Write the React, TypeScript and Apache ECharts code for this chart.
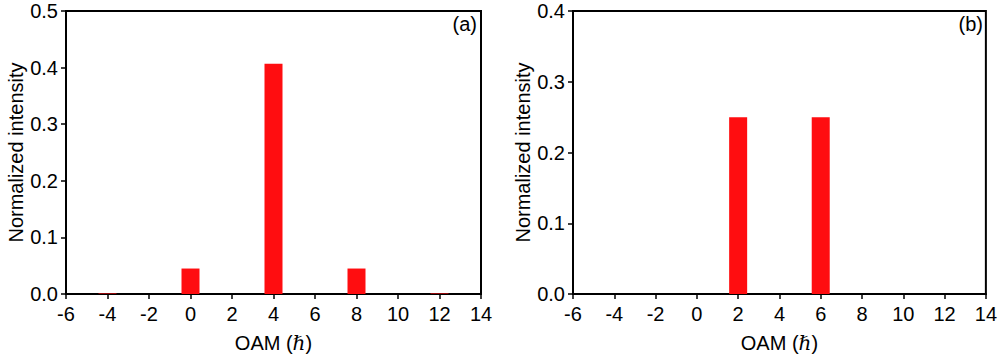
import React, { useEffect, useRef } from "react";
import * as echarts from "echarts";

const oamA = [-4, 0, 4, 8, 12];
const valuesA = [0.001, 0.045, 0.407, 0.045, 0.001];
const oamB = [2, 6];
const valuesB = [0.25, 0.25];
const xTicks = [-6, -4, -2, 0, 2, 4, 6, 8, 10, 12, 14];
const panelLabels = ["(a)", "(b)"];
const yMaxes = [0.5, 0.4];

const FONT = "Liberation Sans, Arial, Helvetica, sans-serif";

export default function App() {
  const ref = useRef<HTMLDivElement>(null);
  useEffect(() => {
    if (!ref.current) return;
    const chart = echarts.init(ref.current, undefined, { renderer: "svg" });
    const grids = [
      { left: 66, right: 519, top: 11, bottom: 58 },
      { left: 573, right: 12, top: 11, bottom: 58 },
    ];
    const mkX = (i: number) => ({
      type: "value",
      gridIndex: i,
      min: xTicks[0],
      max: xTicks[xTicks.length - 1],
      interval: 2,
      name: "OAM ({i|ℏ})",
      nameLocation: "middle",
      nameGap: 39,
      nameTextStyle: {
        color: "#000",
        fontSize: 20,
        fontFamily: FONT,
        rich: { i: { fontStyle: "italic", fontSize: 20, fontFamily: "DejaVu Serif, serif", color: "#000" } },
      },
      axisLine: { show: true, onZero: false, lineStyle: { color: "#000", width: 2 } },
      axisTick: { show: true, inside: false, length: 5, lineStyle: { color: "#000", width: 1.5 } },
      axisLabel: { color: "#000", fontSize: 20, fontFamily: FONT, margin: 10 },
      splitLine: { show: false },
    });
    const mkY = (i: number) => ({
      type: "value",
      gridIndex: i,
      min: 0,
      max: yMaxes[i],
      interval: 0.1,
      name: "Normalized intensity",
      nameLocation: "middle",
      nameGap: 39,
      nameTextStyle: { color: "#000", fontSize: 20, fontFamily: FONT },
      axisLine: { show: true, onZero: false, lineStyle: { color: "#000", width: 2 } },
      axisTick: { show: true, inside: false, length: 5, lineStyle: { color: "#000", width: 1.5 } },
      axisLabel: {
        color: "#000",
        fontSize: 20,
        fontFamily: FONT,
        margin: 8,
        formatter: (v: number) => v.toFixed(1),
      },
      splitLine: { show: false },
    });
    chart.setOption({
      animation: false,
      backgroundColor: "#fff",
      grid: grids.map((g) => ({ ...g, show: true, borderColor: "#000", borderWidth: 2, backgroundColor: "transparent" })),
      xAxis: [mkX(0), mkX(1)],
      yAxis: [mkY(0), mkY(1)],
      series: [
        {
          type: "bar",
          xAxisIndex: 0,
          yAxisIndex: 0,
          barWidth: 18,
          itemStyle: { color: "#ff0d10" },
          data: oamA.map((x, k) => [x, valuesA[k]]),
        },
        {
          type: "bar",
          xAxisIndex: 1,
          yAxisIndex: 1,
          barWidth: 18,
          itemStyle: { color: "#ff0d10" },
          data: oamB.map((x, k) => [x, valuesB[k]]),
        },
      ],
      graphic: [
        { type: "text", right: 523, top: 14, style: { text: panelLabels[0], fill: "#000", fontSize: 20, fontFamily: FONT } },
        { type: "text", right: 17, top: 14, style: { text: panelLabels[1], fill: "#000", fontSize: 20, fontFamily: FONT } },
      ],
    });
    return () => chart.dispose();
  }, []);
  return <div ref={ref} style={{ width: 1000, height: 358, position: "absolute", left: 0, top: 0 }} />;
}
